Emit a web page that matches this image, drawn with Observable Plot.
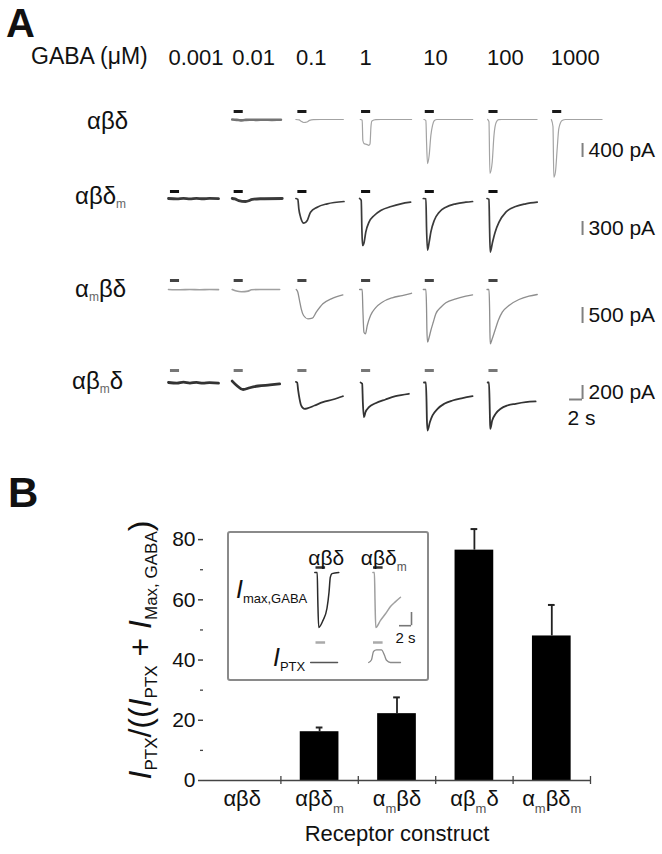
<!DOCTYPE html>
<html>
<head>
<meta charset="utf-8">
<script src="https://cdn.jsdelivr.net/npm/d3@7"></script>
<script src="https://cdn.jsdelivr.net/npm/@observablehq/plot@0.6"></script>
<style>
html, body { margin:0; padding:0; background:#fff; overflow:hidden; }
#fig { position:relative; width:662px; height:854px; overflow:hidden; background:#fff;
       font-family:"Liberation Sans", Arial, Helvetica, sans-serif; color:#111; }
.lbl { position:absolute; white-space:nowrap; line-height:1; }
.lbl sub { font-size:0.5em; vertical-align:-0.3em; line-height:0; color:#666; }
.ytitle sub { font-size:17px; vertical-align:-6px; color:#111; }
.inrow sub { font-size:13px; vertical-align:-5px; color:#111; }
</style>
</head>
<body>
<div id="fig"></div>
<script>
// ================= DATA =================
const concentrations = ["0.001", "0.01", "0.1", "1", "10", "100", "1000"]; // GABA (µM)
const constructsA = ["αβδ", "αβδm", "αmβδ", "αβmδ"];
const scaleBarsPA = [400, 300, 500, 200];
const timeScaleBarS = 2;
const gabaPulse = [0, 1.4];           // s, GABA application
const lowConcentrations = ["0.001", "0.01"];

// traces: [time from GABA onset (s), current (pA)]
const traceAbd = {
  "0.01": [[-0.3,0],[0.4,-10],[1.0,-25],[1.6,-15],[2.4,-5],[3.5,-12],[4.6,-6],[5.8,-10],[7.2,-8]],
  "0.1":  [[-0.3,0],[0.2,-10],[0.5,-50],[0.9,-85],[1.4,-70],[1.8,-25],[2.4,-5],[3.5,0],[7.0,0]],
  "1":    [[-0.2,0],[0.1,-20],[0.2,-600],[0.4,-690],[0.8,-710],[1.1,-740],[1.3,-700],[1.45,-200],[1.6,-40],[2.2,-5],[3,0],[7.7,0]],
  "10":   [[-0.2,0],[0.1,-30],[0.2,-640],[0.35,-1260],[0.6,-1030],[0.86,-460],[1.12,-170],[1.4,-30],[1.8,0],[7.3,0]],
  "100":  [[-0.2,0],[0.0,-60],[0.15,-1540],[0.5,-1220],[0.77,-460],[1.12,-80],[1.5,-5],[2.0,0],[7.4,0]],
  "1000": [[-0.2,0],[0.05,-200],[0.18,-1650],[0.43,-1500],[0.7,-830],[0.95,-260],[1.45,-30],[2.0,0],[7.6,0]]
};
const traceAbdm = {
  "0.001": [[-0.3,0],[1,-8],[2,4],[3,-6],[4,3],[5,-5],[6,2],[7.4,-3]],
  "0.01":  [[-0.3,0],[0.1,-10],[0.7,-45],[1.75,-64],[2.8,-21],[4,-5],[7.4,0]],
  "0.1":   [[-0.3,0],[0,-20],[0.15,-221],[0.42,-400],[0.92,-529],[1.45,-471],[1.95,-293],[2.98,-186],[4.52,-114],[7.1,-64]],
  "1":     [[-0.3,0],[-0.05,-40],[0.05,-650],[0.15,-1007],[0.4,-936],[0.65,-721],[1.15,-507],[1.95,-364],[2.95,-257],[4.55,-171],[6.05,-114],[7.55,-79]],
  "10":    [[-0.3,0],[0.1,-6],[0.2,-643],[0.35,-1107],[0.6,-936],[0.86,-721],[1.38,-471],[2.15,-293],[3.17,-186],[4.7,-114],[6.25,-79],[7.28,-64]],
  "100":   [[-0.3,0],[0.0,-20],[0.1,-650],[0.2,-1150],[0.55,-936],[0.95,-721],[1.55,-507],[2.6,-293],[4.1,-171],[5.65,-114],[7.43,-79]]
};
const traceAmbd = {
  "0.001": [[-0.3,0],[1.5,-10],[3,0],[4.5,-10],[6,0],[7.4,-5]],
  "0.01":  [[-0.3,0],[0.36,-50],[1.12,-70],[2.15,-50],[2.66,-10],[4,0],[7.0,0]],
  "0.1":   [[-0.25,0],[0,-84],[0.26,-344],[0.52,-603],[0.88,-813],[1.54,-916],[2.22,-897],[2.83,-709],[3.85,-447],[5.14,-291],[6.93,-166]],
  "1":     [[-0.3,0],[0.1,0],[0.2,-603],[0.37,-1334],[0.6,-1384],[0.88,-1125],[1.38,-813],[2.15,-572],[3.18,-397],[4.72,-259],[6.26,-188],[7.7,-116]],
  "10":    [[-0.3,0],[0.1,0],[0.2,-603],[0.25,-1228],[0.35,-1647],[0.6,-1491],[0.86,-1281],[1.23,-1022],[1.63,-759],[2.4,-553],[3.17,-416],[4.71,-291],[6.25,-209],[7.28,-166]],
  "100":   [[-0.3,0],[0.0,0],[0.1,-603],[0.15,-1334],[0.2,-1697],[0.5,-1541],[0.92,-1281],[1.43,-969],[2.05,-709],[3.08,-500],[4.62,-313],[6.15,-209],[7.43,-156]]
};
const traceAbmd = {
  "0.001": [[-0.3,0],[1,-10],[2,5],[3,-8],[4,2],[5,-10],[6,-3],[7.4,-8]],
  "0.01":  [[-0.3,20],[0.36,-40],[1.38,-100],[2.4,-75],[3.7,-50],[5.5,-35],[7.0,-20]],
  "0.1":   [[-0.3,10],[-0.1,0],[0.05,-114],[0.26,-233],[0.52,-329],[1.03,-376],[1.54,-367],[2.57,-329],[3.85,-281],[5.4,-243],[6.94,-196]],
  "1":     [[-0.15,0],[0.1,-19],[0.2,-281],[0.37,-496],[0.6,-424],[1.14,-353],[2.15,-296],[3.69,-243],[5.23,-196],[7.28,-161]],
  "10":    [[-0.2,0],[0.1,0],[0.2,-281],[0.25,-519],[0.35,-686],[0.71,-567],[1.12,-471],[1.89,-376],[2.92,-304],[4.2,-257],[5.74,-224],[7.28,-196]],
  "100":   [[-0.2,0],[0.0,0],[0.1,-281],[0.15,-496],[0.2,-661],[0.5,-543],[1.03,-447],[1.8,-376],[2.82,-329],[4.1,-304],[5.65,-281],[7.18,-271]]
};

// Panel B
const constructsB = ["αβδ", "αβδm", "αmβδ", "αβmδ", "αmβδm"];
const ptxFraction = [0, 16.2, 22.2, 76.5, 48.0];
const ptxFractionSEM = [0, 1.4, 5.4, 7.0, 10.3];
const yTicksB = [0, 20, 40, 60, 80];
const yMinorTicksB = [10, 30, 50, 70];

// Inset (normalised current, time from onset in s)
const insetConstructs = ["αβδ", "αβδm"];
const insetPulse = [0, 1.6];
const insetImax = {
  "αβδ":  [[-0.2,0],[0.2,0],[0.3,-0.5],[0.45,-1],[1.17,-0.87],[1.83,-0.65],[2.17,-0.36],[2.38,-0.09],[2.67,-0.02],[3.8,0]],
  "αβδm": [[-0.1,0],[0.15,0],[0.25,-0.5],[0.38,-1],[1.17,-0.87],[2,-0.75],[2.83,-0.62],[3.67,-0.53],[4.5,-0.45]]
};
const insetIptx = {
  "αβδ":  [[-0.9,0],[3.6,0]],
  "αβδm": [[-0.8,0],[-0.33,0.05],[0,0.2],[0.5,0.23],[1.33,0.23],[1.83,0.13],[2.17,0.04],[2.83,0],[4.5,0]]
};
const insetScaleBar = {seconds: 2, current: 0.24};

// ================= LAYOUT / HELPERS =================
const FONT = '"Liberation Sans", Arial, Helvetica, sans-serif';
const fig = document.getElementById("fig");
const NS = "http://www.w3.org/2000/svg";
const baseStyle = {fontFamily: FONT, fontSize: "21px", color: "#111", background: "transparent", overflow: "visible"};

function put(el, left, top) {
  el.style.position = "absolute"; el.style.left = left + "px"; el.style.top = top + "px";
  fig.appendChild(el); return el;
}
function html(h, left, top, css = "", cls = "") {
  const d = document.createElement("div");
  d.className = "lbl " + cls; d.innerHTML = h; d.style.cssText += css;
  return put(d, left, top);
}
const subHTML = s => s.replace(/m/g, "<sub>m</sub>");
function subscriptM(svg, selector, fontPx) {
  const sub = Math.round(fontPx * 0.58), shift = Math.round(fontPx * 0.3);
  svg.querySelectorAll(selector).forEach(t => {
    const s = t.textContent;
    if (!s.includes("m")) return;
    t.textContent = "";
    let down = false;
    for (const part of s.split(/(m)/).filter(p => p)) {
      const ts = document.createElementNS(NS, "tspan");
      ts.textContent = part;
      if (part === "m") { ts.setAttribute("font-size", sub); ts.setAttribute("fill", "#555"); if (!down) ts.setAttribute("dy", shift); down = true; }
      else if (down) { ts.setAttribute("dy", -shift); down = false; }
      t.appendChild(ts);
    }
  });
}

// ---------- Panel A ----------
const PX_PER_S = 6.5, XDOM = [-0.3, 7.8], COL0 = 168, STEP = 63.7;
const bandW = (XDOM[1] - XDOM[0]) * PX_PER_S;
const padIn = 1 - bandW / STEP;
const facetRight = COL0 + STEP * (concentrations.length - 1) + bandW;
const scaleBarT = 4.6;
const fxA = {domain: concentrations, paddingInner: padIn, paddingOuter: 0, round: false, axis: null};

html("A", 6, 3, "font-size:40px;font-weight:bold;");
html("GABA (μM)", 31, 45, "font-size:23px;");

const header = Plot.plot({
  width: 662, height: 30, marginLeft: COL0, marginRight: 662 - facetRight, marginTop: 0, marginBottom: 0,
  fx: fxA, x: {domain: XDOM, axis: null}, style: baseStyle,
  marks: [Plot.text(concentrations, {fx: d => d, x: XDOM[0], text: d => d, textAnchor: "start", fontSize: 22, fill: "#111"})]
});
put(header, 0, 42);

const traceSets = [traceAbd, traceAbdm, traceAmbd, traceAbmd];
const rowLayout = [
  {top: 95,  height: 88, baseline: 119, barPx: 14, barDy: 24, pulseDy: -8,  labelLeft: 87, labelY: 121},
  {top: 183, height: 84, baseline: 198, barPx: 14, barDy: 23, pulseDy: -7,  labelLeft: 75, labelY: 196},
  {top: 267, height: 93, baseline: 289, barPx: 16, barDy: 18, pulseDy: -9,  labelLeft: 75, labelY: 289},
  {top: 360, height: 80, baseline: 382, barPx: 14, barDy: 3,  pulseDy: -12, labelLeft: 72, labelY: 381}
];
const rowStyle = [
  {stroke: "#a3a3a3", sw: 1.2, lowStroke: "#747474", lowSw: 2.6, pulse: "#1a1a1a"},
  {stroke: "#3a3a3a", sw: 1.7, lowStroke: "#3a3a3a", lowSw: 2.8, pulse: "#111"},
  {stroke: "#8e8e8e", sw: 1.3, lowStroke: "#a0a0a0", lowSw: 1.6, pulse: "#444"},
  {stroke: "#333",    sw: 1.8, lowStroke: "#333",    lowSw: 2.8, pulse: "#777"}
];

constructsA.forEach((name, i) => {
  const L = rowLayout[i], S = rowStyle[i], traces = traceSets[i];
  const k = L.barPx / scaleBarsPA[i];
  const pts = [];
  concentrations.forEach(c => (traces[c] || []).forEach(([t, v]) => pts.push({conc: c, t, v})));
  const present = concentrations.filter(c => traces[c]);
  const isLow = d => lowConcentrations.includes(d.conc);
  const yMax = (L.baseline - L.top) / k, yMin = -(L.top + L.height - L.baseline) / k;
  const marks = [
    Plot.line(pts.filter(d => !isLow(d)), {fx: "conc", x: "t", y: "v", z: "conc", stroke: S.stroke, strokeWidth: S.sw, curve: "monotone-x"}),
    Plot.line(pts.filter(isLow), {fx: "conc", x: "t", y: "v", z: "conc", stroke: S.lowStroke, strokeWidth: S.lowSw, curve: "monotone-x"}),
    Plot.ruleY(present, {fx: d => d, y: 0, x1: gabaPulse[0], x2: gabaPulse[1], dy: L.pulseDy, stroke: S.pulse, strokeWidth: 3}),
    Plot.ruleX([scaleBarsPA[i]], {fx: () => "1000", x: scaleBarT, y1: 0, y2: d => -d, dy: L.barDy, stroke: "#808080", strokeWidth: 2}),
    Plot.text([scaleBarsPA[i]], {fx: () => "1000", x: scaleBarT, y: d => -d / 2, dy: L.barDy, dx: 6, text: d => `${d} pA`, textAnchor: "start", fontSize: 21, fill: "#111"})
  ];
  if (i === constructsA.length - 1) {
    marks.push(
      Plot.ruleY([scaleBarsPA[i]], {fx: () => "1000", y: d => -d, x1: scaleBarT - timeScaleBarS, x2: scaleBarT, dy: L.barDy, stroke: "#808080", strokeWidth: 2}),
      Plot.text([timeScaleBarS], {fx: () => "1000", x: scaleBarT - timeScaleBarS, y: -scaleBarsPA[i], dy: L.barDy + 19, dx: -2, text: d => `${d} s`, textAnchor: "start", fontSize: 21, fill: "#111"})
    );
  }
  const svg = Plot.plot({
    width: 662, height: L.height, marginLeft: COL0, marginRight: 662 - facetRight, marginTop: 0, marginBottom: 0,
    fx: fxA, x: {domain: XDOM, axis: null}, y: {domain: [yMin, yMax], axis: null},
    style: baseStyle, marks
  });
  put(svg, 0, L.top);
  html(subHTML(name), L.labelLeft, L.labelY - 12, "font-size:24px;");
});

// ---------- Panel B ----------
html("B", 8, 472, "font-size:42px;font-weight:bold;");
const barData = constructsB.map((c, i) => ({construct: c, mean: ptxFraction[i], sem: ptxFractionSEM[i]}));
const B = {top: 470, height: 384, left: 203, right: 72, mTop: 39, mBottom: 74};
const stepB = (662 - B.left - B.right) / constructsB.length;
const barSvg = Plot.plot({
  width: 662, height: B.height, marginLeft: B.left, marginRight: B.right, marginTop: B.mTop, marginBottom: B.mBottom,
  x: {domain: constructsB, paddingInner: 0.5, paddingOuter: 0.25, round: false, label: null},
  y: {domain: [0, 90], label: null},
  style: baseStyle,
  marks: [
    Plot.barY(barData, {x: "construct", y: "mean", fill: "#000"}),
    Plot.ruleX(barData.filter(d => d.sem > 0), {x: "construct", y1: "mean", y2: d => d.mean + d.sem, stroke: "#222", strokeWidth: 1.8}),
    Plot.tickY(barData.filter(d => d.sem > 0), {x: "construct", y: d => d.mean + d.sem, insetLeft: 16, insetRight: 16, stroke: "#222", strokeWidth: 2}),
    Plot.ruleY([0], {stroke: "#444", strokeWidth: 1.5}),
    Plot.ruleX(constructsB, {x: d => d, y1: 0, y2: 0, dx: stepB / 2, insetTop: -4, insetBottom: -4, stroke: "#444", strokeWidth: 1.3}),
    Plot.axisY({ticks: yTicksB, tickSize: 5, tickPadding: 3, label: null, line: true, stroke: "#444", strokeWidth: 1.5, fontSize: 21}),
    Plot.axisY({ticks: yMinorTicksB, tickSize: 3, tickFormat: () => "", label: null, stroke: "#444", strokeWidth: 1.3}),
    Plot.axisX({tickSize: 0, tickPadding: 10, label: null, fontSize: 22}),
    Plot.text(["Receptor construct"], {frameAnchor: "bottom", dy: 60, fontSize: 22, fill: "#111"})
  ]
});
subscriptM(barSvg, 'g[aria-label="x-axis tick label"] text', 22);
put(barSvg, 0, B.top);

html(`<i>I</i><sub>PTX</sub>/((<i>I</i><sub>PTX</sub> + <i>I</i><sub>Max, GABA</sub>)`, 140, 650,
     "font-size:32px;transform:translate(-50%,-50%) rotate(-90deg);", "ytitle");

// ---------- Inset ----------
const box = document.createElement("div");
box.style.cssText = "width:202px;height:150px;box-sizing:border-box;border:2px solid #8a8a8a;border-radius:3px;";
put(box, 227, 531);

const IN_PX_PER_S = 6, IN_XDOM = [-1.2, 4.6], IN_COL0 = 308.3, IN_STEP = 57.5, IN_PX_PER_UNIT = 55;
const inBandW = (IN_XDOM[1] - IN_XDOM[0]) * IN_PX_PER_S;
const inRight = IN_COL0 + IN_STEP * (insetConstructs.length - 1) + inBandW;
const fxIn = {domain: insetConstructs, paddingInner: 1 - inBandW / IN_STEP, paddingOuter: 0, round: false, axis: null};
const toPts = obj => insetConstructs.flatMap(c => (obj[c] || []).map(([t, v]) => ({c, t, v})));

// I max,GABA row
{
  const top = 530, mTop = 30, height = 105, baseline = 572;
  const yMax = (baseline - top - mTop) / IN_PX_PER_UNIT, yMin = -(top + height - baseline) / IN_PX_PER_UNIT;
  const barT = IN_XDOM[0] + (411 - (IN_COL0 + IN_STEP)) / IN_PX_PER_S;
  const svg = Plot.plot({
    width: 662, height, marginLeft: IN_COL0, marginRight: 662 - inRight, marginTop: mTop, marginBottom: 0,
    fx: fxIn, x: {domain: IN_XDOM, axis: null}, y: {domain: [yMin, yMax], axis: null},
    color: {domain: insetConstructs, range: ["#2a2a2a", "#a0a0a0"]},
    style: baseStyle,
    marks: [
      Plot.line(toPts(insetImax), {fx: "c", x: "t", y: "v", z: "c", stroke: "c", strokeWidth: 1.5, curve: "monotone-x"}),
      Plot.ruleY(insetConstructs, {fx: d => d, y: 0, x1: insetPulse[0], x2: insetPulse[1], dy: -5, stroke: "#333", strokeWidth: 2.5}),
      Plot.ruleX([insetScaleBar], {fx: () => "αβδm", x: barT, y1: 0, y2: d => -d.current, dy: 40, stroke: "#777", strokeWidth: 1.6}),
      Plot.ruleY([insetScaleBar], {fx: () => "αβδm", y: d => -d.current, x1: d => barT - d.seconds, x2: barT, dy: 40, stroke: "#777", strokeWidth: 1.6}),
      Plot.text([insetScaleBar], {fx: () => "αβδm", x: d => barT - d.seconds / 2, y: d => -d.current, dy: 52, text: d => `${d.seconds} s`, fontSize: 15, fill: "#111"}),
      Plot.text(insetConstructs, {fx: d => d, frameAnchor: "top", dy: -10, text: d => d, fontSize: 21, fill: "#111"})
    ]
  });
  subscriptM(svg, 'g[aria-label="text"] text', 21);
  put(svg, 0, top);
}
// I PTX row
{
  const top = 636, height = 36, baseline = 662;
  const yMax = (baseline - top) / IN_PX_PER_UNIT, yMin = -(top + height - baseline) / IN_PX_PER_UNIT;
  const svg = Plot.plot({
    width: 662, height, marginLeft: IN_COL0, marginRight: 662 - inRight, marginTop: 0, marginBottom: 0,
    fx: fxIn, x: {domain: IN_XDOM, axis: null}, y: {domain: [yMin, yMax], axis: null},
    color: {domain: insetConstructs, range: ["#555", "#8a8a8a"]},
    style: baseStyle,
    marks: [
      Plot.line(toPts(insetIptx), {fx: "c", x: "t", y: "v", z: "c", stroke: "c", strokeWidth: 1.3, curve: "monotone-x"}),
      Plot.ruleY(insetConstructs, {fx: d => d, y: 0, x1: insetPulse[0], x2: insetPulse[1], dy: -20, stroke: "#aaa", strokeWidth: 2.5})
    ]
  });
  put(svg, 0, top);
}
html(`<i style="font-size:25px">I</i><sub>max,GABA</sub>`, 236, 577, "", "inrow");
html(`<i style="font-size:25px">I</i><sub>PTX</sub>`, 273, 645, "", "inrow");
</script>
</body>
</html>
